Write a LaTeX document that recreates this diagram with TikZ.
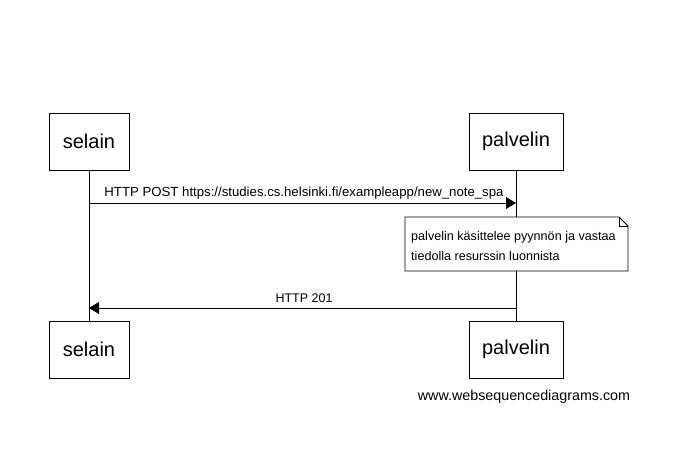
\documentclass[tikz,border=0pt]{standalone}
\usepackage{fontspec}
\setmainfont{Liberation Sans}
\usetikzlibrary{arrows.meta,shapes.misc}
\begin{document}
\begin{tikzpicture}[x=1pt,y=-1pt,
  actor/.style={draw,line width=0.9pt,fill=white,minimum height=57pt,inner sep=0pt,font=\fontsize{20}{23}\selectfont},
  msg/.style={line width=0.9pt,-{Triangle[length=10pt,width=12pt]}},
  lifeline/.style={line width=0.9pt},
  lbl/.style={font=\fontsize{13.2}{16}\selectfont,inner sep=0pt}]
\useasboundingbox (0,0) rectangle (683,469);
% actors
\node[actor,minimum width=80pt] (s1) at (89,141.5) {selain};
\node[actor,minimum width=80pt] (s2) at (89,349.5) {selain};
\node[actor,minimum width=94pt] (p1) at (516,141.5) {palvelin};
\node[actor,minimum width=94pt] (p2) at (516,349.5) {palvelin};
% lifelines
\draw[lifeline] (s1.south) -- (s2.north);
\draw[lifeline] (p1.south) -- (p2.north);
% messages
\coordinate (m1s) at (89,203);
\coordinate (m1e) at (516,203);
\draw[msg] (m1s) -- (m1e);
\node[lbl] (t1) at (304,193) {HTTP POST https://studies.cs.helsinki.fi/exampleapp/new\_note\_spa};
\coordinate (m2s) at (516,308);
\coordinate (m2e) at (89,308);
\draw[msg] (m2s) -- (m2e);
\node[lbl,font=\fontsize{12.5}{16}\selectfont] (t2) at (304,298) {HTTP 201};
% note
\draw[line width=0.9pt,fill=white] (405,217) -- (619,217) -- (628,226) -- (628,271) -- (405,271) -- cycle;
\draw[line width=0.9pt] (619,217) -- (619,226) -- (628,226);
\node[lbl,anchor=west,align=left,font=\fontsize{12.6}{19.5}\selectfont] (nt) at (411,246) {palvelin käsittelee pyynnön ja vastaa\\tiedolla resurssin luonnista};
\node[lbl,font=\fontsize{14.3}{16}\selectfont] (wsd) at (524,397) {www.websequencediagrams.com};
\end{tikzpicture}
\end{document}
